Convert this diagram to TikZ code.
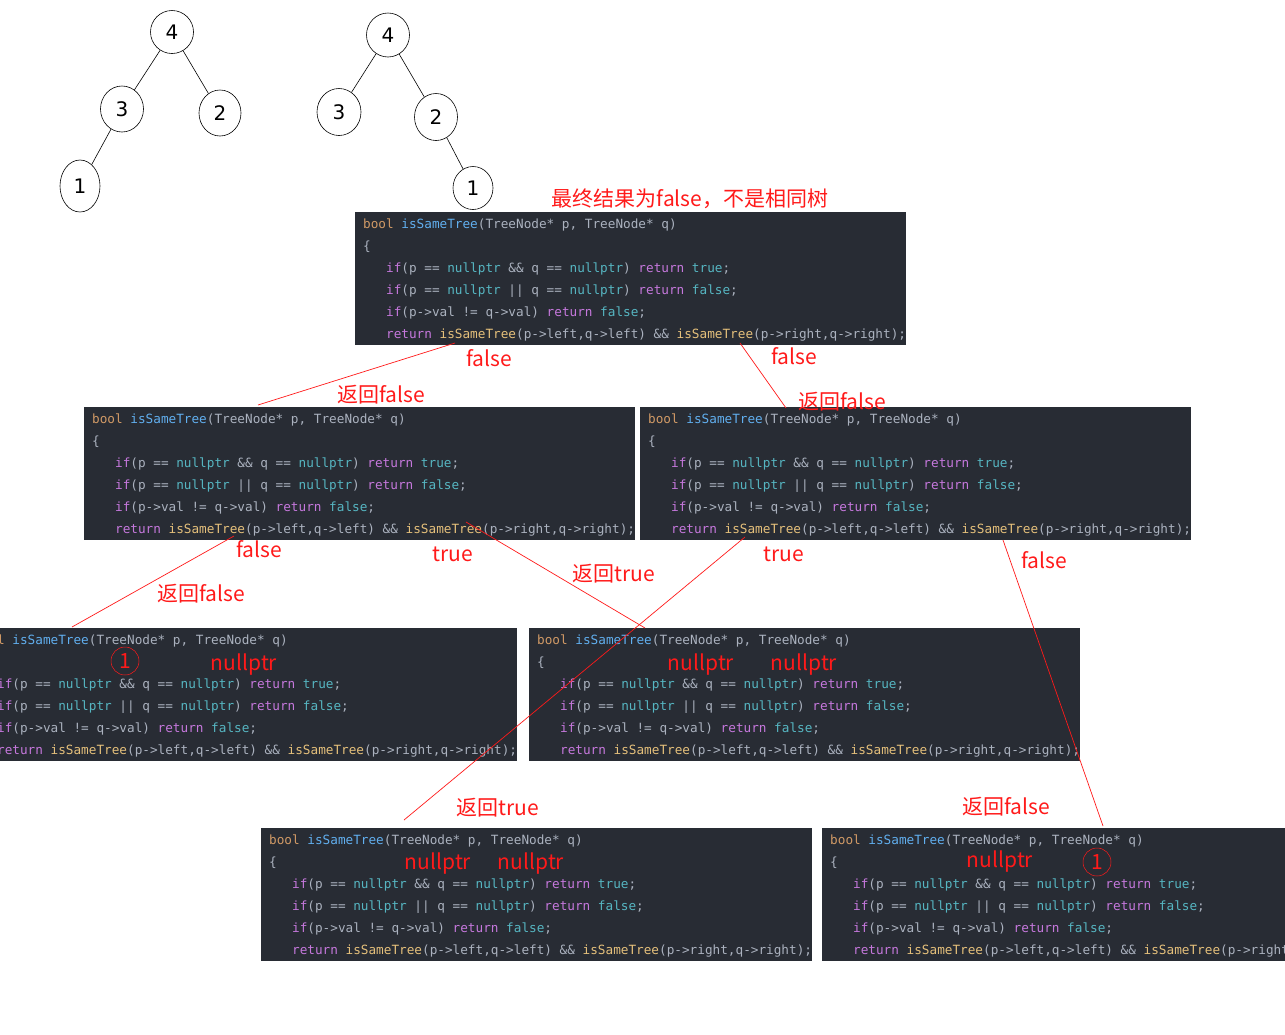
\documentclass[tikz,border=0pt]{standalone}
\usepackage{fontspec}
\usepackage{xcolor}
\usepackage{tikz}
\usetikzlibrary{shapes.geometric, calc}

\newfontfamily\codefont{DejaVu Sans Mono}
\newfontfamily\cjk{Noto Sans CJK SC}
\newfontfamily\digitfont{DejaVu Sans}

\definecolor{codebg}{HTML}{282C34}
\definecolor{codetxt}{HTML}{ABB2BF}
\definecolor{codetype}{HTML}{D19A66}
\definecolor{codefn}{HTML}{61AFEF}
\definecolor{codecall}{HTML}{E5C07B}
\definecolor{codekw}{HTML}{C678DD}
\definecolor{codeconst}{HTML}{56B6C2}
\definecolor{annred}{HTML}{FF1A1A}

\newcommand{\kw}[1]{\textcolor{codekw}{#1}}
\newcommand{\cst}[1]{\textcolor{codeconst}{#1}}
\newcommand{\samecode}{\begin{tabular}{@{\hspace{8pt}}l@{}}
\textcolor{codetype}{bool} \textcolor{codefn}{isSameTree}(TreeNode* p, TreeNode* q)\\
\{\\
\phantom{xxx}\kw{if}(p == \cst{nullptr} \&\& q == \cst{nullptr}) \kw{return} \cst{true};\\
\phantom{xxx}\kw{if}(p == \cst{nullptr} || q == \cst{nullptr}) \kw{return} \cst{false};\\
\phantom{xxx}\kw{if}(p->val != q->val) \kw{return} \cst{false};\\
\phantom{xxx}\kw{return} \textcolor{codecall}{isSameTree}(p->left,q->left) \&\& \textcolor{codecall}{isSameTree}(p->right,q->right);
\end{tabular}}

\tikzset{
  codebox/.style={fill=codebg, text=codetxt, anchor=north west, inner xsep=0pt, inner ysep=0.5pt,
    minimum height=133pt, font=\codefont\fontsize{12.7}{22}\selectfont},
  treenode/.style={draw, ellipse, inner sep=0pt, line width=0.6pt, font=\digitfont\fontsize{20}{20}\selectfont},
  annlabel/.style={text=annred, inner sep=0pt, font=\cjk\fontsize{21}{21}\selectfont},
  nullmark/.style={draw=annred, circle, line width=0.5pt, minimum size=28pt, inner sep=0pt,
    text=annred, font=\cjk\fontsize{21}{21}\selectfont},
  call/.style={draw=annred, line width=0.7pt}
}

\begin{document}
\begin{tikzpicture}[x=1pt, y=-1pt]
\useasboundingbox (0,0) rectangle (1285,1034);
\fill[white] (0,0) rectangle (1285,1034);
\clip (0,0) rectangle (1285,1034);

% the two trees
\node[treenode, minimum width=43pt, minimum height=43pt] (t1n4) at (172,32) {4};
\node[treenode, minimum width=43pt, minimum height=46pt] (t1n3) at (122,109) {3};
\node[treenode, minimum width=42pt, minimum height=46pt] (t1n2) at (220,113) {2};
\node[treenode, minimum width=40pt, minimum height=52pt] (t1n1) at (80,186) {1};
\draw[line width=0.6pt] (t1n4) -- (t1n3);
\draw[line width=0.6pt] (t1n4) -- (t1n2);
\draw[line width=0.6pt] (t1n3) -- (t1n1);

\node[treenode, minimum width=43pt, minimum height=44pt] (t2n4) at (388,35) {4};
\node[treenode, minimum width=44pt, minimum height=47pt] (t2n3) at (339,112) {3};
\node[treenode, minimum width=43pt, minimum height=47pt] (t2n2) at (436,117) {2};
\node[treenode, minimum width=40pt, minimum height=43pt] (t2n1) at (473,188) {1};
\draw[line width=0.6pt] (t2n4) -- (t2n3);
\draw[line width=0.6pt] (t2n4) -- (t2n2);
\draw[line width=0.6pt] (t2n2) -- (t2n1);

% recursive calls
\node[codebox] (callA) at (355,212) {\samecode};
\node[codebox] (callB) at (84,407) {\samecode};
\node[codebox] (callC) at (640,407) {\samecode};
\node[codebox] (callD) at (-34,628) {\samecode};
\node[codebox] (callE) at (529,628) {\samecode};
\node[codebox] (callF) at (261,828) {\samecode};
\node[codebox] (callG) at (822,828) {\samecode};

\node[annlabel] (result) at (690,199) {最终结果为false，不是相同树};

% connectors
\coordinate (Aleft) at (455,343);
\coordinate (Aright) at (740,343);
\coordinate (Btop) at (258,405);
\coordinate (Ctop) at (786,408);
\coordinate (Bleft) at (234,536);
\coordinate (Bright) at (466,522);
\coordinate (Cleft) at (745,537);
\coordinate (Cright) at (1003,540);
\coordinate (Dtop) at (72,627);
\coordinate (Etop) at (645,628);
\coordinate (Ftop) at (404,820);
\coordinate (Gtop) at (1103,826);
\draw[call] (Aleft) -- (Btop);
\draw[call] (Aright) -- (Ctop);
\draw[call] (Bleft) -- (Dtop);
\draw[call] (Bright) -- (Etop);
\draw[call] (Cleft) -- (Ftop);
\draw[call] (Cright) -- (Gtop);

% return values
\node[annlabel] (Afalse) at (489,358) {false};
\node[annlabel] (Aret) at (381,395) {返回false};
\node[annlabel] (Afalse2) at (794,356) {false};
\node[annlabel] (Aret2) at (842,402) {返回false};
\node[annlabel] (Bfalse) at (259,549) {false};
\node[annlabel] (Btrue) at (453,554) {true};
\node[annlabel] (Bret) at (201,594) {返回false};
\node[annlabel] (Bret2) at (614,574) {返回true};
\node[annlabel] (Ctrue) at (784,554) {true};
\node[annlabel] (Cfalse) at (1044,560) {false};
\node[annlabel] (Cret) at (498,808) {返回true};
\node[annlabel] (Cret2) at (1006,807) {返回false};

% arguments
\node[nullmark] (Done) at (125,661) {1};
\node[annlabel] (Dnull) at (244,665) {nullptr};
\node[annlabel] (Enull) at (701,665) {nullptr};
\node[annlabel] (Enull2) at (804,665) {nullptr};
\node[annlabel] (Fnull) at (438,864) {nullptr};
\node[annlabel] (Fnull2) at (531,864) {nullptr};
\node[annlabel] (Gnull) at (1000,862) {nullptr};
\node[nullmark] (Gone) at (1097,862) {1};
\end{tikzpicture}
\end{document}
